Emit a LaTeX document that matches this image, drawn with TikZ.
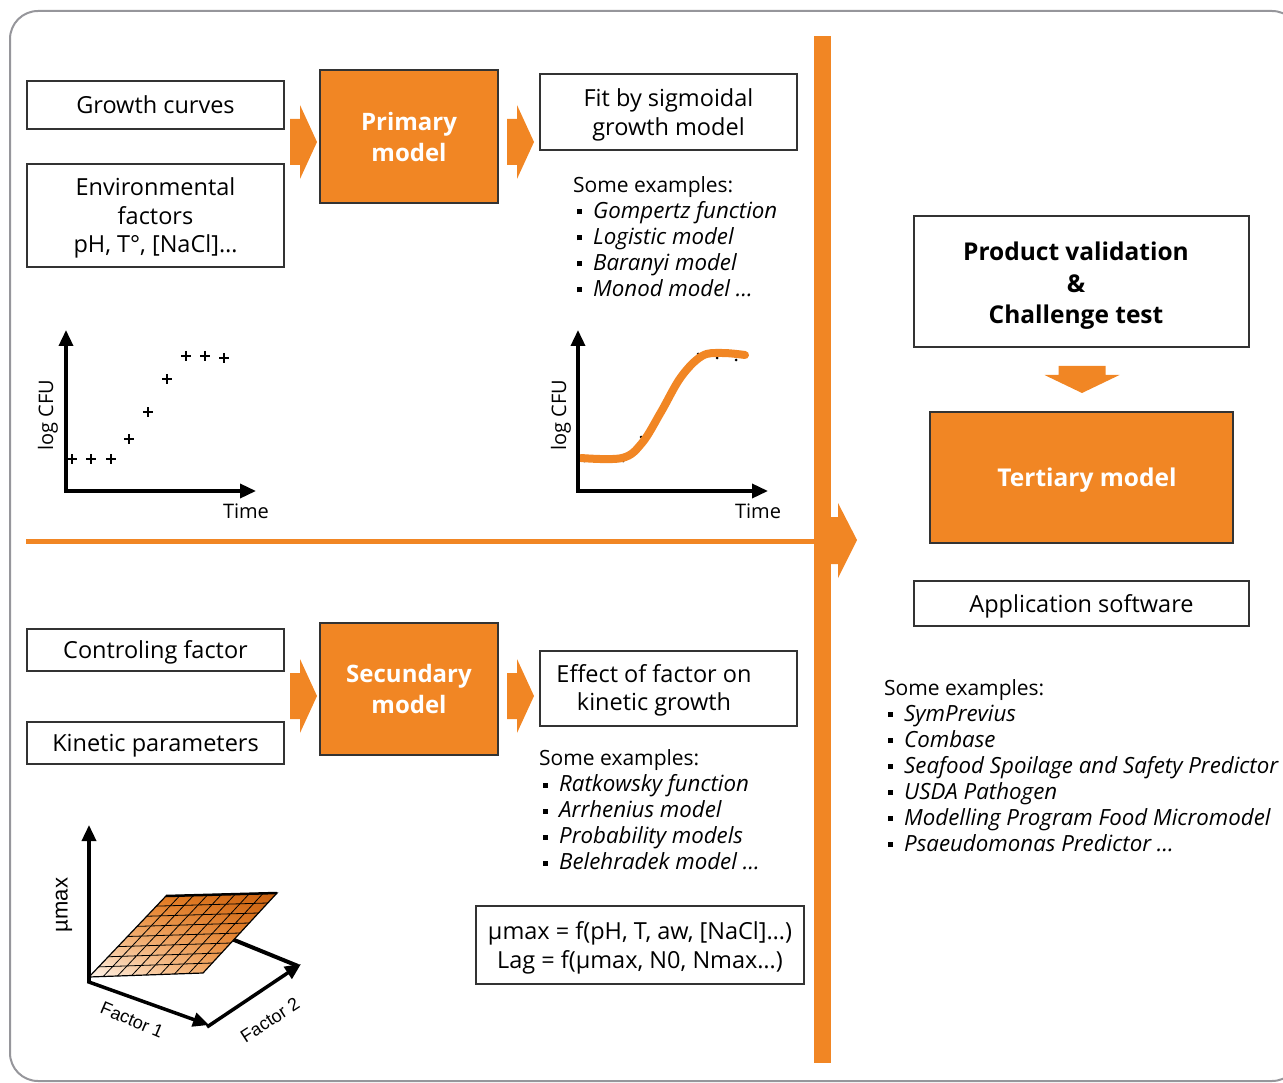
\documentclass[tikz,border=0pt]{standalone}
\usepackage{fontspec}
\setmainfont{Open Sans}
\newfontfamily\arialfont{Liberation Sans}
\usetikzlibrary{arrows.meta,calc,shadings}
\definecolor{myorange}{RGB}{241,134,36}
\definecolor{darkorange}{RGB}{200,95,15}
\definecolor{framegray}{RGB}{150,150,155}
\tikzset{
  rarrow/.pic={\fill[myorange] (0,-23) -- (10,-23) -- (10,-37) -- (27,0) -- (10,37) -- (10,23) -- (0,23) -- cycle;},
  darrow/.pic={\fill[myorange] (-23.5,0) -- (23.5,0) -- (23.5,9) -- (37.5,9) -- (0,27) -- (-37.5,9) -- (-23.5,9) -- cycle;}
}
\begin{document}
\begin{tikzpicture}[x=1pt,y=-1pt,
	box/.style={ draw=black!80, line width=1.6, fill=white, inner sep=0pt, align=center, text depth=0pt, font=\fontsize{23.5}{28.5}\selectfont },
	boxtext/.style={ inner sep=0pt, align=center, font=\fontsize{23.5}{28.5}\selectfont },
	model/.style={ box, fill=myorange, text=white, font=\fontsize{24}{31}\selectfont\bfseries },
	axis/.style={ line width=3.5, -{Triangle[length=16,width=14]} },
	axlabel/.style={ inner sep=0pt, font=\fontsize{20}{24}\selectfont },
	head/.style={ anchor=base west, inner sep=0pt, font=\fontsize{21}{26}\selectfont },
	item/.style={ head, font=\fontsize{22.3}{26}\selectfont\itshape, execute at begin node={\rule[4pt]{5pt}{5pt}\hspace{11pt}} }
]
\useasboundingbox (0,0) rectangle (1283,1083);
\draw[framegray, line width=2, rounded corners=28] (10,11) rectangle (1300,1081);

\fill[myorange] (814,36) rectangle (831,1063);
\fill[myorange] (831,517) -- (838,517) -- (838,503) -- (857,540) -- (838,578) -- (838,564) -- (831,564) -- cycle;
\fill[myorange] (26,538.5) rectangle (814,543.5);

\node at (155.5,105) (growth) [box, minimum width=257, minimum height=48] {Growth curves};
\node at (155.5,215.5) (env) [box, minimum width=257, minimum height=103] {Environmental\\factors\\pH, T°, [NaCl]…};
\node at (409,136.5) (primary) [model, minimum width=178, minimum height=133] {Primary\\model};
\node at (668.5,112) (fit) [box, minimum width=257, minimum height=76] {Fit by sigmoidal\\growth model};
\pic at (290,142) {rarrow};
\pic at (507,142) {rarrow};

\node at (573,192.5) (exA) [head] {Some examples:};
\foreach \t [count=\i] in {Gompertz function, Logistic model, Baranyi model, Monod model …}
	\node at (577,{192.5+26*\i}) (exA\i) [item] {\t};

\draw[axis] (66,491) -- (66,330);
\draw[axis] (64.25,491) -- (256,491);
\node at (48,415) (logA) [axlabel, rotate=90] {log CFU};
\node at (246,511) (timeA) [axlabel] {Time};
\foreach \x/\y in {72/459, 91/459, 111/459, 129/439, 148/412, 167/379, 186/356, 205/356, 224/358}
	\draw[line width=2] (\x-5,\y) -- (\x+5,\y) (\x,\y-5) -- (\x,\y+5);

\foreach \x/\y in {584/461, 603/461, 623/461, 641/437, 660/412, 679/379, 698/354, 717/358, 736/360}
	\fill (\x,\y) circle (1.5);
\draw[myorange, line width=8, line cap=round] plot[smooth, tension=0.6] coordinates {(581,458) (622,458) (642,443) (661,412) (681,377) (702,356) (722,353) (745,355)};
\draw[axis] (578,491) -- (578,330);
\draw[axis] (576.25,491) -- (768,491);
\node at (561,415) (logB) [axlabel, rotate=90] {log CFU};
\node at (758,511) (timeB) [axlabel] {Time};

\node at (155.5,650) (ctrl) [box, minimum width=257, minimum height=42] {Controling factor};
\node at (155.5,743) (kin) [box, minimum width=257, minimum height=42] {Kinetic parameters};
\node at (409,689) (secund) [model, minimum width=178, minimum height=132] {Secundary\\model};
\node at (668.5,688.5) (effect) [box, minimum width=257, minimum height=75] {};
\node at (654,690.5) (effecttxt) [boxtext] {Effect of factor on\\kinetic growth};
\pic at (290,696) {rarrow};
\pic at (507,696) {rarrow};

\node at (539,765.5) (exB) [head] {Some examples:};
\foreach \t [count=\i] in {Ratkowsky function, Arrhenius model, Probability models, Belehradek model …}
	\node at (543,{765.5+26*\i}) (exB\i) [item] {\t};

\node at (640,945) (formula) [box, minimum width=328, minimum height=78] {µmax = f(pH, T, aw, [NaCl]…)\\Lag = f(µmax, N0, Nmax…)};

\coordinate (A) at (89,977);
\coordinate (B) at (203,973);
\coordinate (C) at (277,893);
\coordinate (D) at (166,896);
\draw[line width=4] (222,935) -- (298,966);
\shade[lower left=myorange!8!white, lower right=myorange, upper left=myorange, upper right=darkorange] (A) -- (B) -- (C) -- (D) -- cycle;
\foreach \t in {0.125,0.25,...,0.9}
	\draw[line width=0.8] ($(A)!\t!(D)$) -- ($(B)!\t!(C)$) ($(A)!\t!(B)$) -- ($(D)!\t!(C)$);
\draw[line width=1.2] (A) -- (B) -- (C) -- (D) -- cycle;
\draw[line width=2.5] (D) -- (C);
\draw[axis] (89,982) -- (89,825);
\draw[axis] (87.5,981.5) -- (209,1025);
\draw[axis] (207,1027) -- (301,964);
\node at (64,905) (mumax) [inner sep=0pt, rotate=90, font=\arialfont\fontsize{22}{24}\selectfont] {µmax};
\node at (132,1020) (fac1) [inner sep=0pt, rotate=-23, font=\arialfont\fontsize{18}{22}\selectfont] {Factor 1};
\node at (270,1020) (fac2) [inner sep=0pt, rotate=33, font=\arialfont\fontsize{18}{22}\selectfont] {Factor 2};

\node at (1081.5,281.5) (product) [box, minimum width=335, minimum height=131] {};
\node at (1076,286) (producttxt) [boxtext, font=\fontsize{24.5}{31.5}\selectfont\bfseries] {Product validation\\\&\\Challenge test};
\pic at (1082,366) {darrow};
\node at (1081.5,477.5) (tertiary) [model, minimum width=303, minimum height=131] {};
\node at (1087,480.5) (tertiarytxt) [boxtext, text=white, font=\fontsize{24.5}{31}\selectfont\bfseries] {Tertiary model};
\node at (1081.5,603.5) (app) [box, minimum width=335, minimum height=45] {Application software};

\node at (884,695) (exC) [head] {Some examples:};
\foreach \t [count=\i] in {SymPrevius, Combase, Seafood Spoilage and Safety Predictor, USDA Pathogen, Modelling Program Food Micromodel, Psaeudomonas Predictor …}
	\node at (888,{695+26*\i}) (exC\i) [item] {\t};

\end{tikzpicture}
\end{document}
